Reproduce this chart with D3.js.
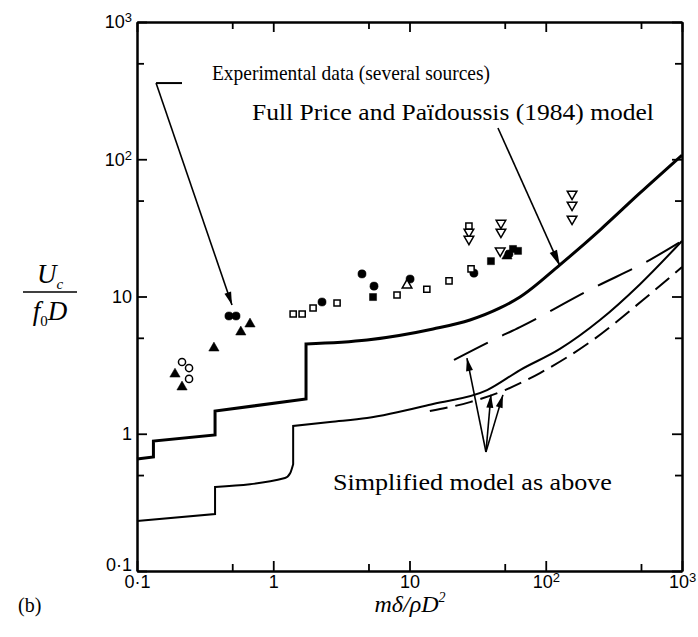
<!DOCTYPE html>
<html>
<head>
<meta charset="utf-8">
<script src="https://cdn.jsdelivr.net/npm/d3@7"></script>
<style>
  body { margin: 0; background: #fff; }
  text { fill: #000; }
</style>
</head>
<body>
<svg id="chart"></svg>
<script>
const width = 698, height = 637;

// tick values and labels
const majorTicks = [0.1, 1, 10, 100, 1000];
const minorTicks = [0.5, 5, 50, 500];
const tickLabels = ["0·1", "1", "10", "10²", "10³"];

// full Price and Paidoussis (1984) model (thick)
const fullModel = [[0.1, 0.655], [0.132, 0.677], [0.132, 0.885], [0.374, 0.98], [0.374, 1.465],
  [1.74, 1.79], [1.74, 4.51], [4.88, 4.82], [14.9, 5.80], [27.8, 6.74], [46.2, 8.25],
  [64.7, 9.91], [127, 17.0], [250, 30.5], [492, 56.8], [1000, 107]];
// lower full model curve (thin)
const lowerModel = [[0.1, 0.231], [0.374, 0.26], [0.374, 0.409], [1.22, 0.476], [1.33, 0.515],
  [1.40, 0.60], [1.40, 1.139], [2.61, 1.218], [4.88, 1.30], [14.9, 1.648], [37.1, 2.08],
  [64.7, 2.91], [127, 4.15], [250, 6.74], [492, 12.3], [1000, 25.4]];
// simplified model (long dash and short dash)
const simpleUpper = [[21.2, 3.45], [41.0, 4.82], [64.7, 5.99], [222, 11.5], [582, 18.5], [967, 24.9]];
const simpleLower = [[14.1, 1.465], [27.8, 1.70], [50.2, 2.08], [90.7, 2.77], [222, 4.82], [517, 9.43], [1000, 16.4]];

// experimental data, one array per symbol
const filledCircles = [[0.473, 7.21], [0.533, 7.21], [2.28, 9.12], [4.48, 14.6], [5.49, 11.9], [10.1, 13.4], [29.7, 14.8], [53.7, 20.4]];
const filledTriangles = [[0.675, 6.30], [0.578, 5.51], [0.367, 4.21], [0.190, 2.72], [0.214, 2.19], [51.9, 19.7]];
const openCircles = [[0.214, 3.33], [0.241, 3.01], [0.241, 2.51]];
const openSquares = [[1.40, 7.46], [1.63, 7.46], [1.96, 8.25], [2.94, 8.97], [8.10, 10.26], [13.4, 11.3], [19.5, 13.0], [28.3, 15.9], [27.3, 32.6]];
const filledSquares = [[5.40, 9.91], [39.6, 18.1], [57.5, 22.2], [62.6, 21.5]];
const openTriangles = [[9.59, 12.1]];
const openDownTriangles = [[27.3, 29.5], [27.3, 26.2], [46.9, 34.3], [46.9, 29.5], [46.3, 21.5], [156, 55.8], [156, 46.4], [156, 36.7]];

const svg = d3.select("#chart")
    .attr("width", width)
    .attr("height", height);

const x = d3.scaleLog().domain([0.1, 1000]).range([137, 682]);
const y = d3.scaleLog().domain([0.1, 1000]).range([571, 22]);

const fmt = d => tickLabels[majorTicks.indexOf(d)];
const supDigit = { "²": "2", "³": "3" };

function styleAxis(g) {
    g.selectAll("path.domain").attr("stroke", "#000").attr("stroke-width", 2);
    g.selectAll(".tick line").attr("stroke", "#000").attr("stroke-width", 1.8);
    g.selectAll("text")
        .attr("font-family", "Liberation Sans, Arial, sans-serif")
        .attr("font-size", 18).attr("fill", "#000")
        .each(function() {
            const s = this.textContent;
            const last = s.slice(-1);
            if (supDigit[last]) {
                const t = d3.select(this).text(s.slice(0, -1));
                t.append("tspan").attr("dy", "-0.45em").attr("font-size", 13).text(supDigit[last]);
            }
        });
}

// bottom
svg.append("g").attr("transform", `translate(0,${y(0.1)})`)
    .call(d3.axisBottom(x).tickValues(majorTicks).tickFormat(fmt).tickSizeInner(-10).tickSizeOuter(0).tickPadding(4))
    .call(styleAxis);
svg.append("g").attr("transform", `translate(0,${y(0.1)})`)
    .call(d3.axisBottom(x).tickValues(minorTicks).tickFormat("").tickSizeInner(-7).tickSizeOuter(0))
    .call(styleAxis);
// top
svg.append("g").attr("transform", `translate(0,${y(1000)})`)
    .call(d3.axisTop(x).tickValues(majorTicks).tickFormat("").tickSizeInner(-10).tickSizeOuter(0))
    .call(styleAxis);
svg.append("g").attr("transform", `translate(0,${y(1000)})`)
    .call(d3.axisTop(x).tickValues(minorTicks).tickFormat("").tickSizeInner(-7).tickSizeOuter(0))
    .call(styleAxis);
// left
const leftAxis = svg.append("g").attr("transform", `translate(${x(0.1)},0)`)
    .call(d3.axisLeft(y).tickValues(majorTicks).tickFormat(fmt).tickSizeInner(-10).tickSizeOuter(0).tickPadding(5))
    .call(styleAxis);
// lift the bottom "0·1" a little so it clears the x-axis label below it
leftAxis.selectAll(".tick").filter(d => d === 0.1).select("text").attr("dy", "-0.05em");
svg.append("g").attr("transform", `translate(${x(0.1)},0)`)
    .call(d3.axisLeft(y).tickValues(minorTicks).tickFormat("").tickSizeInner(-7).tickSizeOuter(0))
    .call(styleAxis);
// right
svg.append("g").attr("transform", `translate(${x(1000)},0)`)
    .call(d3.axisRight(y).tickValues(majorTicks).tickFormat("").tickSizeInner(-10).tickSizeOuter(0))
    .call(styleAxis);
svg.append("g").attr("transform", `translate(${x(1000)},0)`)
    .call(d3.axisRight(y).tickValues(minorTicks).tickFormat("").tickSizeInner(-7).tickSizeOuter(0))
    .call(styleAxis);

// curves: smooth between steps, exact vertical at steps (repeated x)
const smooth = d3.line().x(d => x(d[0])).y(d => y(d[1])).curve(d3.curveMonotoneX);
function stepCurve(data) {
    const runs = [[data[0]]];
    for (let i = 1; i < data.length; i++) {
        if (data[i][0] === data[i - 1][0]) runs.push([]);
        runs[runs.length - 1].push(data[i]);
    }
    return runs.map((r, i) => {
        const p = r.length > 1 ? smooth(r) : `M${x(r[0][0])},${y(r[0][1])}`;
        return i === 0 ? p : "L" + p.slice(1);
    }).join("");
}

svg.append("path").attr("d", stepCurve(fullModel))
    .attr("fill", "none").attr("stroke", "#000").attr("stroke-width", 3);
svg.append("path").attr("d", stepCurve(lowerModel))
    .attr("fill", "none").attr("stroke", "#000").attr("stroke-width", 2);
svg.append("path").attr("d", smooth(simpleUpper))
    .attr("fill", "none").attr("stroke", "#000").attr("stroke-width", 2)
    .attr("stroke-dasharray", "38,16");
svg.append("path").attr("d", smooth(simpleLower))
    .attr("fill", "none").attr("stroke", "#000").attr("stroke-width", 2)
    .attr("stroke-dasharray", "18,8");

// markers
function drawMarkers(data, type, size, filled, rotate) {
    svg.append("g").selectAll("path")
        .data(data)
        .enter().append("path")
        .attr("d", d3.symbol().type(type).size(size))
        .attr("transform", d => `translate(${x(d[0])},${y(d[1])})` + (rotate ? " rotate(180)" : ""))
        .attr("fill", filled ? "#000" : "#fff")
        .attr("stroke", "#000")
        .attr("stroke-width", filled ? 0.5 : 1.5);
}
drawMarkers(filledCircles, d3.symbolCircle, 52, true);
drawMarkers(filledTriangles, d3.symbolTriangle, 46, true);
drawMarkers(openCircles, d3.symbolCircle, 40, false);
drawMarkers(openSquares, d3.symbolSquare, 38, false);
drawMarkers(filledSquares, d3.symbolSquare, 50, true);
drawMarkers(openTriangles, d3.symbolTriangle, 40, false);
drawMarkers(openDownTriangles, d3.symbolTriangle, 40, false, true);

// annotation arrows (data coords)
function arrow(from, to, headLen = 13, headW = 3.5) {
    const x0 = x(from[0]), y0 = y(from[1]), x1 = x(to[0]), y1 = y(to[1]);
    const a = Math.atan2(y1 - y0, x1 - x0);
    svg.append("line").attr("x1", x0).attr("y1", y0).attr("x2", x1).attr("y2", y1)
        .attr("stroke", "#000").attr("stroke-width", 1.6);
    const bx = x1 - headLen * Math.cos(a), by = y1 - headLen * Math.sin(a);
    const pts = [[x1, y1],
        [bx + headW * Math.sin(a), by - headW * Math.cos(a)],
        [bx - headW * Math.sin(a), by + headW * Math.cos(a)]];
    svg.append("path").attr("d", "M" + pts.join("L") + "Z").attr("fill", "#000");
}

// "Experimental data" pointer with its short horizontal leader
svg.append("line")
    .attr("x1", x(0.138)).attr("y1", y(359)).attr("x2", x(0.214)).attr("y2", y(359))
    .attr("stroke", "#000").attr("stroke-width", 2);
arrow([0.138, 359], [0.498, 8.67]);
arrow([44.6, 169], [127, 16.7], 16, 4);
arrow([36.4, 0.736], [26.4, 3.56]);
arrow([36.4, 0.736], [39.6, 1.92]);
arrow([36.4, 0.736], [48.5, 1.92]);

// annotation text
const serif = "Liberation Serif, Times New Roman, serif";
function note(str, at, size, len) {
    svg.append("text").attr("x", x(at[0])).attr("y", y(at[1]))
        .attr("font-family", serif).attr("font-size", size)
        .attr("textLength", len).attr("lengthAdjust", "spacingAndGlyphs")
        .text(str);
}
note("Experimental data (several sources)", [0.355, 375], 22, 278);
note("Full Price and Païdoussis (1984) model", [0.698, 193], 23, 402);
note("Simplified model as above", [2.74, 0.389], 23, 279);

// panel tag
svg.append("text").attr("x", 18).attr("y", 612)
    .attr("font-family", serif).attr("font-size", 20).text("(b)");

// x axis title: m delta / rho D^2
const xt = svg.append("text").attr("x", 410).attr("y", 612).attr("text-anchor", "middle")
    .attr("font-family", serif).attr("font-size", 24).attr("font-style", "italic");
xt.append("tspan").text("mδ/ρD");
xt.append("tspan").attr("dy", -10).attr("font-size", 14).text("2");

// y axis title: U_c / f_0 D
const yt = svg.append("g").attr("transform", "translate(50,292)");
const num = yt.append("text").attr("x", 0).attr("y", -9).attr("text-anchor", "middle")
    .attr("font-family", serif).attr("font-size", 27).attr("font-style", "italic");
num.append("tspan").text("U");
num.append("tspan").attr("dy", 6).attr("font-size", 15).text("c");
yt.append("line").attr("x1", -27).attr("x2", 27).attr("y1", 0).attr("y2", 0)
    .attr("stroke", "#000").attr("stroke-width", 1.5);
const den = yt.append("text").attr("x", 0).attr("y", 28).attr("text-anchor", "middle")
    .attr("font-family", serif).attr("font-size", 27).attr("font-style", "italic");
den.append("tspan").text("f");
den.append("tspan").attr("dy", 6).attr("font-size", 15).attr("font-style", "normal").text("0");
den.append("tspan").attr("dy", -6).text("D");
</script>
</body>
</html>
